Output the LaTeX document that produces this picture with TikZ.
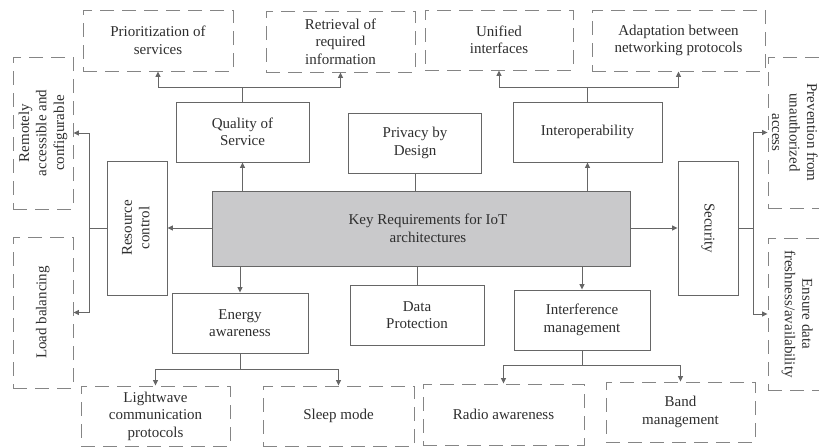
\documentclass[tikz,border=0pt]{standalone}
\usepackage{fontspec}
\setmainfont{Liberation Serif}
\usetikzlibrary{arrows.meta}
\definecolor{linegray}{HTML}{666666}
\definecolor{dashgray}{HTML}{858585}
\definecolor{keyfill}{HTML}{C9C9CB}
\definecolor{txt}{HTML}{2E2E2E}
% rotated multi-line label
\newcommand{\turned}[2]{\rotatebox{#1}{\begin{tabular}{@{}c@{}}#2\end{tabular}}}
\begin{document}
\begin{tikzpicture}[x=1pt,y=-1pt,
  font=\fontsize{15}{17.5}\selectfont,
  every node/.style={text=txt, align=center, inner sep=0pt},
  solidbox/.style={draw=linegray, line width=0.9pt, rectangle},
  dashbox/.style={draw=dashgray, line width=0.9pt, dash pattern=on 14pt off 8pt, rectangle},
  conn/.style={draw=linegray, line width=0.9pt},
  arr/.style={conn, -{Triangle[length=5.5pt,width=5pt]}}]
\useasboundingbox (0,0) rectangle (819,447);
\clip (0,0) rectangle (819,447);

% central requirement box
\node[solidbox, fill=keyfill, minimum width=418pt, minimum height=75pt] (key) at (421,228.5) {};
\node (keytxt) at (428,228.5) {Key Requirements for IoT\\architectures};

% first-level requirements
\node[solidbox, minimum width=133pt, minimum height=60pt] (qos) at (242.5,132) {Quality of\\Service};
\node[solidbox, minimum width=133pt, minimum height=60pt] (priv) at (415,143) {Privacy by\\Design};
\node[solidbox, minimum width=149pt, minimum height=60pt] (interop) at (587.5,132) {Interoperability};
\node[solidbox, minimum width=60pt, minimum height=134pt] (res) at (137,228) {\turned{90}{Resource\\control}};
\node[solidbox, minimum width=60pt, minimum height=134pt] (sec) at (708,228) {\turned{-90}{Security}};
\node[solidbox, minimum width=136pt, minimum height=60pt] (energy) at (240,323) {Energy\\awareness};
\node[solidbox, minimum width=134pt, minimum height=60pt] (data) at (417,315) {Data\\Protection};
\node[solidbox, minimum width=136pt, minimum height=60pt] (interf) at (582,320) {Interference\\management};

% second-level aspects
\node[dashbox, minimum width=150pt, minimum height=61pt] (prio) at (158,40.5) {Prioritization of\\services};
\node[dashbox, minimum width=149pt, minimum height=61pt] (retr) at (340.5,41.5) {Retrieval of\\required\\information};
\node[dashbox, minimum width=148pt, minimum height=60pt] (unif) at (499,40) {Unified\\interfaces};
\node[dashbox, minimum width=173pt, minimum height=61pt] (adapt) at (678.5,40.5) {Adaptation between\\networking protocols};
\node[dashbox, minimum width=60pt, minimum height=152pt] (remote) at (43,133) {\turned{90}{Remotely\\accessible and\\configurable}};
\node[dashbox, minimum width=60pt, minimum height=151pt] (load) at (43,312.5) {\turned{90}{Load balancing}};
\node[dashbox, minimum width=60pt, minimum height=151pt] (prev) at (798,132.5) {};
\node (prevtxt) at (793,132.5) {\turned{-90}{Prevention from\\unauthorized\\access}};
\node[dashbox, minimum width=60pt, minimum height=152pt] (ensure) at (798,314) {};
\node (ensuretxt) at (797,314) {\turned{-90}{Ensure data\\freshness/availability}};
\node[dashbox, minimum width=149pt, minimum height=60pt] (light) at (155.5,416) {Lightwave\\communication\\protocols};
\node[dashbox, minimum width=151pt, minimum height=60pt] (sleep) at (338.5,416) {Sleep mode};
\node[dashbox, minimum width=161pt, minimum height=61pt] (radio) at (503.5,414.5) {Radio awareness};
\node[dashbox, minimum width=149pt, minimum height=60pt] (band) at (680.5,412) {Band\\management};

% branch points
\coordinate (qosj) at (242.5,87);
\coordinate (intj) at (587.5,87);
\coordinate (resj) at (89,228);
\coordinate (secj) at (753,228);
\coordinate (enj) at (240,369);
\coordinate (infj) at (582,365);

% central box to first level
\draw[arr] (key.north -| qos.south) -- (qos.south);
\draw[arr] (key.north -| interop.south) -- (interop.south);
\draw[conn] (key.north -| priv.south) -- (priv.south);
\draw[conn] (key.south -| data.north) -- (data.north);
\draw[arr] (key.west |- res.east) -- (res.east);
\draw[arr] (key.east |- sec.west) -- (sec.west);
\draw[arr] (key.south -| energy.north) -- (energy.north);
\draw[arr] (key.south -| interf.north) -- (interf.north);

% first level to second level
\draw[conn] (qos.north) -- (qosj);
\draw[arr] (qosj) -| (prio.south);
\draw[arr] (qosj) -| (retr.south);
\draw[conn] (interop.north) -- (intj);
\draw[arr] (intj) -| (unif.south);
\draw[arr] (intj) -| (adapt.south);
\draw[conn] (res.west) -- (resj);
\draw[arr] (resj) |- (remote.east);
\draw[arr] (resj) |- (load.east);
\draw[conn] (sec.east) -- (secj);
\draw[arr] (secj) |- (prev.west);
\draw[arr] (secj) |- (ensure.west);
\draw[conn] (energy.south) -- (enj);
\draw[arr] (enj) -| (light.north);
\draw[arr] (enj) -| (sleep.north);
\draw[conn] (interf.south) -- (infj);
\draw[arr] (infj) -| (radio.north);
\draw[arr] (infj) -| (band.north);
\end{tikzpicture}
\end{document}
